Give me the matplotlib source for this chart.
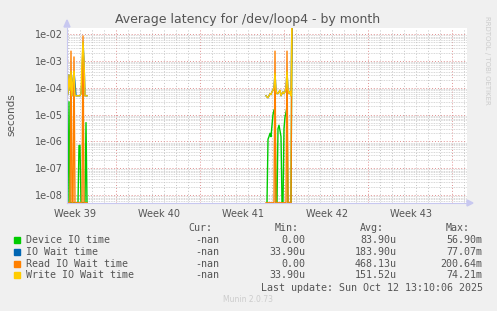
import numpy as np
import matplotlib
matplotlib.use("Agg")
import matplotlib.pyplot as plt
from matplotlib.ticker import FixedLocator

# samples are 2 hours apart (1/12 day); x is measured in days
step = 1 / 12.0
c1_start = -1 / 12.0     # first cluster
c2_start = 198 / 12.0    # second cluster

# cluster 1 values (seconds), 0 = nothing, nan = no data
c1_device = [0, 0, 3e-5, 0, 0, 0, 0, 0, 0, 0, 0, 0, 7e-7, 7e-7, 0, 0, 0, 0, 0, 5e-6, 0, np.nan]
c1_iowait = [5e-5, 6e-5, 3e-4, 8e-5, 4e-4, 5e-5, 2e-4, 4e-4, 1.5e-4, 5e-5, 5e-5, 5e-5, 5e-5, 5e-5,
             6e-5, 2e-4, 5e-3, 1e-3, 5e-5, 5e-5, 5e-5, np.nan]
c1_read = [0, 0, 0, 0, 2.3e-3, 0, 0, 1.4e-3, 0, 0, 0, 0, 0, 0, 0, 0, 8.5e-3, 0, 0, 0, 0, np.nan]
c1_write = [5e-5, 6e-5, 3e-4, 8e-5, 4e-4, 5e-5, 2e-4, 4e-4, 5e-5, 5e-5, 5e-5, 5e-5, 5e-5, 5e-5,
            6e-5, 1e-3, 5e-3, 1e-3, 5e-5, 5e-5, 5e-5, np.nan]

# cluster 2 values
c2_device = [np.nan, 0, 1.2e-6, 1.5e-6, 2e-6, 1.5e-6, 4e-6, 1e-5, 1.5e-5, 8e-6, 0, 0, 3e-6, 4e-6,
             2.5e-6, 1.5e-6, 0, 0, 3e-6, 8e-6, 1.2e-5, 2e-5, 0, 0, 0, 0, 5.69e-2]
c2_iowait = [5e-5, 4.5e-5, 4.2e-5, 5e-5, 6e-5, 5.5e-5, 7e-5, 8e-5, 1e-4, 3.5e-4, 8e-5, 6e-5, 6e-5, 7e-5,
             8e-5, 5e-5, 6e-5, 7e-5, 6e-5, 7e-5, 1e-4, 4e-4, 9e-5, 6e-5, 7e-5, 5e-5, 7.707e-2]
c2_read = [0, 0, 0, 0, 0, 0, 0, 0, 0, 2.3e-3, 0, 0, 0, 0, 0, 0, 0, 0, 0, 0, 0, 2.3e-3, 0, 0, 0, 0, 2.0064e-1]
c2_write = [5e-5, 4.5e-5, 4.2e-5, 5e-5, 6e-5, 5.5e-5, 7e-5, 8e-5, 1e-4, 3.5e-4, 8e-5, 6e-5, 6e-5, 7e-5,
            8e-5, 5e-5, 6e-5, 7e-5, 6e-5, 7e-5, 1e-4, 4e-4, 9e-5, 6e-5, 7e-5, 5e-5, 7.421e-2]

series_names = ["Device IO time", "IO Wait time", "Read IO Wait time", "Write IO Wait time"]
series_colors = ["#00CC00", "#0066B3", "#FF8000", "#FFCC00"]
cur_vals = ["-nan", "-nan", "-nan", "-nan"]
min_vals = ["0.00", "33.90u", "0.00", "33.90u"]
avg_vals = ["83.90u", "183.90u", "468.13u", "151.52u"]
max_vals = ["56.90m", "77.07m", "200.64m", "74.21m"]

week_labels = ["Week 39", "Week 40", "Week 41", "Week 42", "Week 43"]
week_pos = [0.58, 7.58, 14.58, 21.58, 28.58]

W, H = 497, 311
ymin, ymax = 10 ** -8.298, 10 ** -1.776
fig = plt.figure(figsize=(W / 100, H / 100), dpi=100, facecolor="#F0F0F0")
ax = fig.add_axes([67 / W, 1 - 203 / H, 400 / W, 175 / H])
ax.set_facecolor("white")
ax.set_yscale("log", nonpositive="clip")
ax.set_xlim(-1 / 12.0, 33.25)
ax.set_ylim(ymin, ymax)

# grid
for d in range(0, 34):
    red = (d - 4) % 7 == 0
    ax.axvline(d, color="#E09090" if red else "#C4C4C4", lw=0.7,
               ls=(0, (1, 2)), zorder=0)
for e in range(-9, -1):
    for m in range(1, 10):
        v = m * 10.0 ** e
        if m == 1:
            ax.axhline(v, color="#E09090", lw=0.7, ls=(0, (1, 2)), zorder=0)
        else:
            ax.axhline(v, color="#CACACA", lw=0.6, ls=(0, (1, 1)), zorder=0)

groups = [(c1_start, [c1_device, c1_iowait, c1_read, c1_write]),
          (c2_start, [c2_device, c2_iowait, c2_read, c2_write])]
for start, vals in groups:
    for v, col in zip(vals, series_colors):
        x = start + step * np.arange(len(v))
        y = np.array(v, dtype=float)
        y = np.where(y == 0, ymin * 1.02, y)
        ax.plot(x, y, color=col, lw=1.0, zorder=3, clip_on=True)

ax.yaxis.set_major_locator(FixedLocator([1e-8, 1e-7, 1e-6, 1e-5, 1e-4, 1e-3, 1e-2]))
ax.yaxis.set_minor_locator(FixedLocator([]))
ax.set_yticklabels(["1e-08", "1e-07", "1e-06", "1e-05", "1e-04", "1e-03", "1e-02"])
ax.set_xticks(week_pos)
ax.set_xticklabels(week_labels)
ax.tick_params(axis="both", length=0, labelsize=7, colors="#555555", pad=3)
ax.tick_params(axis="x", pad=4)

for s in ["top", "right"]:
    ax.spines[s].set_visible(False)
for s in ["left", "bottom"]:
    ax.spines[s].set_color("#C8C8F0")
    ax.spines[s].set_linewidth(0.8)
    ax.spines[s].set_zorder(4)

# axis arrows
fig.patches.append(plt.Polygon([[64 / W, 1 - 27 / H], [70 / W, 1 - 27 / H], [67 / W, 1 - 20 / H]],
                               closed=True, transform=fig.transFigure, color="#C8C8F0"))
fig.patches.append(plt.Polygon([[467 / W, 1 - 200 / H], [467 / W, 1 - 206 / H], [473 / W, 1 - 203 / H]],
                               closed=True, transform=fig.transFigure, color="#C8C8F0"))

fig.text(248 / W, 1 - 19 / H, "Average latency for /dev/loop4 - by month",
         ha="center", va="center", fontsize=9, color="#555555")
fig.text(11 / W, 1 - 115 / H, "seconds", rotation=90, ha="center", va="center",
         fontsize=7.5, color="#555555")
fig.text(487 / W, 1 - 60 / H, "RRDTOOL / TOBI OETIKER", rotation=270, ha="center", va="center",
         fontsize=5, color="#CCCCCC")

mono = "DejaVu Sans Mono"
fs = 7.2
hy = 228
fig.text(212.7 / W, 1 - hy / H, "Cur:", ha="right", va="center", family=mono, fontsize=fs, color="#555555")
fig.text(299 / W, 1 - hy / H, "Min:", ha="right", va="center", family=mono, fontsize=fs, color="#555555")
fig.text(384 / W, 1 - hy / H, "Avg:", ha="right", va="center", family=mono, fontsize=fs, color="#555555")
fig.text(470 / W, 1 - hy / H, "Max:", ha="right", va="center", family=mono, fontsize=fs, color="#555555")
for i in range(4):
    yy = 1 - (240 + 11.8 * i) / H
    fig.patches.append(plt.Rectangle((14 / W, yy - 3 / H), 5.5 / W, 6 / H,
                                     transform=fig.transFigure, color=series_colors[i]))
    fig.text(26.3 / W, yy, series_names[i], ha="left", va="center", family=mono, fontsize=fs, color="#555555")
    fig.text(219.3 / W, yy, cur_vals[i], ha="right", va="center", family=mono, fontsize=fs, color="#555555")
    fig.text(305.7 / W, yy, min_vals[i], ha="right", va="center", family=mono, fontsize=fs, color="#555555")
    fig.text(396.7 / W, yy, avg_vals[i], ha="right", va="center", family=mono, fontsize=fs, color="#555555")
    fig.text(482.7 / W, yy, max_vals[i], ha="right", va="center", family=mono, fontsize=fs, color="#555555")
fig.text(482.7 / W, 1 - 288 / H, "Last update: Sun Oct 12 13:10:06 2025", ha="right", va="center",
         family=mono, fontsize=fs, color="#555555")
fig.text(248 / W, 1 - 300 / H, "Munin 2.0.73", ha="center", va="center", fontsize=5.5, color="#CCCCCC")

fig.savefig("out.png", dpi=100, facecolor=fig.get_facecolor())
